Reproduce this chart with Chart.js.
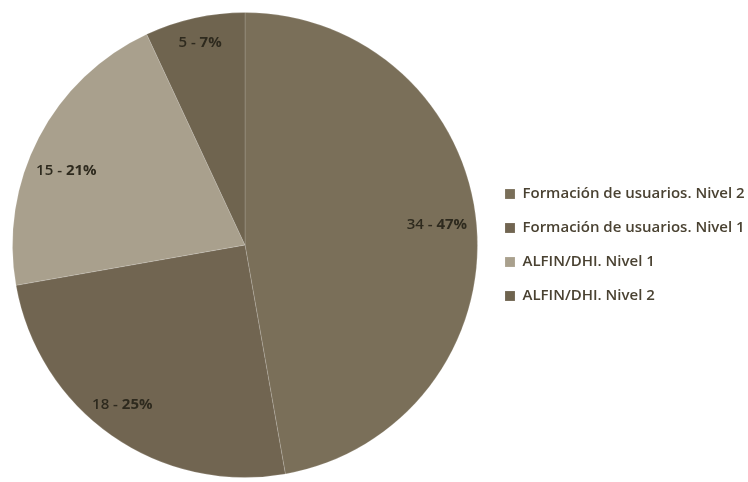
<!DOCTYPE html>
<html>
<head>
<meta charset="utf-8">
<script src="https://cdn.jsdelivr.net/npm/chart.js@4/dist/chart.umd.min.js"></script>
<style>
  html, body { margin: 0; padding: 0; background: #ffffff; }
  #wrap { width: 748px; height: 482px; position: relative; }
</style>
</head>
<body>
<div id="wrap"><canvas id="c" width="748" height="482"></canvas></div>
<script>
const categories = [
  'Formación de usuarios. Nivel 2',
  'Formación de usuarios. Nivel 1',
  'ALFIN/DHI. Nivel 1',
  'ALFIN/DHI. Nivel 2'
];
const counts = [34, 18, 15, 5];
const percents = ['47%', '25%', '21%', '7%'];
const colors = ['#7a6f59', '#716551', '#a9a08d', '#6f644f'];

const sliceLabels = {
  id: 'sliceLabels',
  afterDatasetsDraw(chart, args, opts) {
    const ctx = chart.ctx;
    const meta = chart.getDatasetMeta(0);
    const radial = opts.radial || [];
    const shift = opts.angleShift || [];
    ctx.save();
    ctx.textBaseline = 'middle';
    meta.data.forEach((arc, i) => {
      const p = arc.getProps(['x', 'y', 'startAngle', 'endAngle', 'outerRadius'], true);
      const mid = (p.startAngle + p.endAngle) / 2 + (shift[i] || 0) * Math.PI / 180;
      const r = p.outerRadius * (radial[i] || 0.85);
      const cx = p.x + Math.cos(mid) * r;
      const cy = p.y + Math.sin(mid) * r;
      const a = counts[i] + ' - ';
      const b = percents[i];
      ctx.font = '600 15px "Open Sans"';
      const wa = ctx.measureText(a).width;
      ctx.font = 'bold 15px "Open Sans"';
      const wb = ctx.measureText(b).width;
      let x = cx - (wa + wb) / 2;
      ctx.fillStyle = '#2e2a1e';
      ctx.textAlign = 'left';
      ctx.font = '600 15px "Open Sans"';
      ctx.fillText(a, x, cy);
      ctx.font = 'bold 15px "Open Sans"';
      ctx.fillText(b, x + wa, cy);
    });
    ctx.restore();
  }
};

new Chart(document.getElementById('c'), {
  type: 'pie',
  data: {
    labels: categories,
    datasets: [{
      data: counts,
      backgroundColor: colors,
      borderColor: 'rgba(255,255,255,0.15)',
      borderWidth: 1
    }]
  },
  options: {
    responsive: false,
    animation: false,
    layout: { padding: { top: 12, bottom: 4, left: 4, right: 0 } },
    plugins: {
      tooltip: { enabled: false },
      sliceLabels: {
        radial: [0.83, 0.867, 0.833, 0.893],
        angleShift: [-1, 2.5, -4.8, 0]
      },
      legend: {
        position: 'right',
        maxWidth: 262,
        labels: {
          boxWidth: 10,
          boxHeight: 10,
          padding: 19,
          color: '#4a4232',
          font: { family: '"Open Sans"', size: 15, weight: '600' }
        }
      }
    }
  },
  plugins: [sliceLabels]
});
</script>
</body>
</html>
